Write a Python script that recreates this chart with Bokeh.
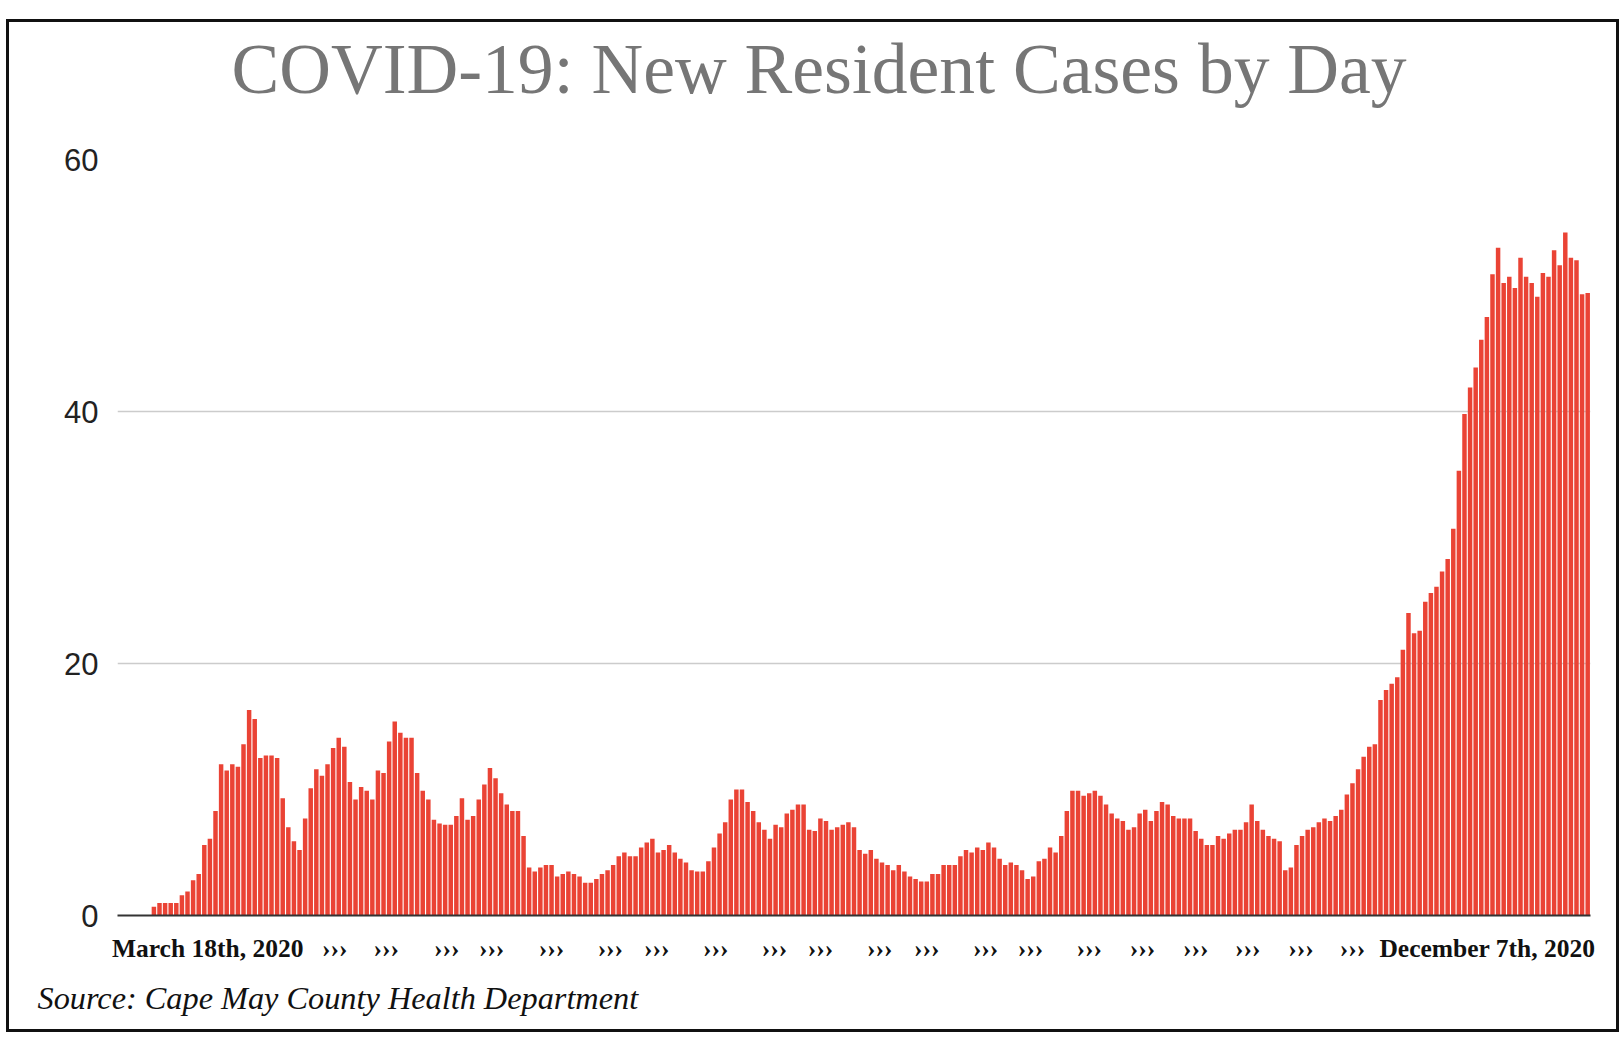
from bokeh.plotting import figure
from bokeh.models import Range1d, FixedTicker, Title, ColumnDataSource
from bokeh.embed import file_html
from bokeh.resources import INLINE

# ---- data (new resident cases per day) ----
lead_in = [0, 0, 0, 0, 0, 0]
spring = [0.7, 1.0, 1.0, 1.0, 1.0, 1.6, 1.9, 2.8, 3.3, 5.6, 6.1, 8.3, 12.0, 11.5, 12.0, 11.8,
          13.6, 16.3, 15.6, 12.5, 12.7, 12.7, 12.5, 9.3, 7.0, 5.9, 5.2, 7.7, 10.1, 11.6, 11.1,
          12.0, 13.3, 14.1, 13.4, 10.6, 9.2, 10.2, 9.9]
late_spring = [9.2, 11.5, 11.3, 13.8, 15.4, 14.5, 14.1, 14.1, 11.3, 9.9, 9.2, 7.6, 7.3, 7.2, 7.2,
               7.9, 9.3, 7.6, 7.9, 9.2, 10.4, 11.7, 10.9, 9.7, 8.8, 8.3, 8.3, 6.3, 3.8, 3.5, 3.8,
               4.0, 4.0, 3.1, 3.3, 3.5, 3.3, 3.1, 2.6, 2.6, 2.9, 3.3, 3.6, 4.0, 4.7]
summer = [5.0, 4.7, 4.7, 5.4, 5.8, 6.1, 5.0, 5.2, 5.6, 5.0, 4.5, 4.2, 3.6, 3.5, 3.5, 4.3, 5.4,
          6.5, 7.4, 9.2, 10.0, 10.0, 9.0, 8.3, 7.4, 6.8, 6.1, 7.2, 7.0, 8.1, 8.4, 8.8, 8.8, 6.8,
          6.7, 7.7, 7.5, 6.8, 7.0, 7.2, 7.4, 7.0, 5.2]
late_summer = [4.9, 5.2, 4.5, 4.2, 4.0, 3.6, 4.0, 3.5, 3.1, 2.9, 2.7, 2.7, 3.3, 3.3, 4.0, 4.0,
               4.0, 4.7, 5.2, 5.0, 5.4, 5.2, 5.8, 5.4, 4.5, 4.0, 4.2, 4.0, 3.6, 2.9, 3.1, 4.3,
               4.5, 5.4, 5.0, 6.3, 8.3, 9.9, 9.9, 9.5, 9.7, 9.9, 9.5]
autumn = [8.8, 8.1, 7.7, 7.5, 6.8, 7.0, 8.1, 8.4, 7.5, 8.3, 9.0, 8.8, 7.9, 7.7, 7.7, 7.7, 6.7,
          6.1, 5.6, 5.6, 6.3, 6.1, 6.5, 6.8, 6.8, 7.4, 8.8, 7.5, 6.8, 6.3, 6.1, 5.9, 3.6, 3.8,
          5.6, 6.3, 6.8, 7.0, 7.4, 7.7, 7.5, 7.9, 8.4]
surge = [9.6, 10.5, 11.6, 12.6, 13.4, 13.6, 17.1, 17.9, 18.4, 18.9, 21.1, 24.0, 22.4, 22.6,
         24.9, 25.6, 26.1, 27.3, 28.3, 30.7, 35.3, 39.8, 41.9, 43.5, 45.7, 47.5, 50.9, 53.0,
         50.2, 50.7, 49.8, 52.2, 50.7, 50.2, 49.1, 51.0, 50.7, 52.8, 51.6, 54.2, 52.2, 52.0,
         49.3, 49.4]

cases = lead_in + spring + late_spring + summer + late_summer + autumn + surge
day_index = list(range(len(cases)))

# category-axis labels (position in day index, text)
label_days = [15.6, 38.3, 47.5, 58.3, 66.3, 77.0, 87.5, 95.8, 106.3, 116.8, 125.0, 135.6,
              144.0, 154.5, 162.5, 173.0, 182.5, 192.0, 201.3, 210.8, 220.0, 244.1]
label_texts = ["March 18th, 2020"] + ["\u203a\u203a\u203a"] * 20 + ["December 7th, 2020"]

y_ticks = [0, 20, 40, 60]

title_text = "COVID-19:  New Resident Cases by Day"
source_text = "Source:  Cape May County Health Department"

# ---- figure ----
p = figure(width=1613, height=1013,
           x_range=Range1d(-0.5, len(cases) - 0.5), y_range=Range1d(0, 60),
           output_backend="svg", toolbar_location=None,
           min_border_left=108, min_border_right=32, min_border_top=10, min_border_bottom=120,
           styles={"border": "3px solid #111111", "margin-top": "19px", "margin-left": "6px"})
p.background_fill_color = "white"
p.border_fill_color = "white"
p.outline_line_color = None

src = ColumnDataSource(dict(x=day_index, top=cases))
p.vbar(x="x", top="top", width=0.8, bottom=0, source=src,
       fill_color="#EA4335", line_color=None)

# title (outermost) and a gap between it and the plot area
p.title.text = title_text
p.title.align = "left"
p.title.offset = 114
p.title.standoff = 8
p.title.text_font = "Liberation Serif"
p.title.text_font_style = "normal"
p.title.text_font_size = "71.6px"
p.title.text_color = "#767676"

gap = Title(text=" ", text_font_size="1px", standoff=45)
p.add_layout(gap, "above")

# y axis
p.yaxis.ticker = FixedTicker(ticks=y_ticks)
p.yaxis.axis_line_color = None
p.yaxis.major_tick_line_color = None
p.yaxis.minor_tick_line_color = None
p.yaxis.major_tick_out = 0
p.yaxis.major_tick_in = 0
p.yaxis.major_label_standoff = 19
p.yaxis.major_label_text_font = "Liberation Sans"
p.yaxis.major_label_text_font_size = "31px"
p.yaxis.major_label_text_color = "#222222"

p.ygrid.ticker = FixedTicker(ticks=y_ticks)
p.ygrid.grid_line_color = "#cccccc"
p.ygrid.grid_line_width = 1.5
p.xgrid.grid_line_color = None

# x axis
p.xaxis.ticker = FixedTicker(ticks=label_days)
p.xaxis.major_label_overrides = {d: t for d, t in zip(label_days, label_texts)}
p.xaxis.axis_line_color = "#333333"
p.xaxis.axis_line_width = 2
p.xaxis.major_tick_line_color = None
p.xaxis.minor_tick_line_color = None
p.xaxis.major_tick_out = 0
p.xaxis.major_tick_in = 0
p.xaxis.major_label_standoff = 18
p.xaxis.major_label_text_font = "Liberation Serif"
p.xaxis.major_label_text_font_style = "bold"
p.xaxis.major_label_text_font_size = "25.5px"
p.xaxis.major_label_text_color = "#111111"

# source note
note = Title(text=source_text, align="left", text_font="Liberation Serif",
             text_font_style="italic", text_font_size="32.3px", text_color="#111111",
             offset=-80, standoff=25)
p.add_layout(note, "below")

open("out.html", "w").write(file_html(p, INLINE))
